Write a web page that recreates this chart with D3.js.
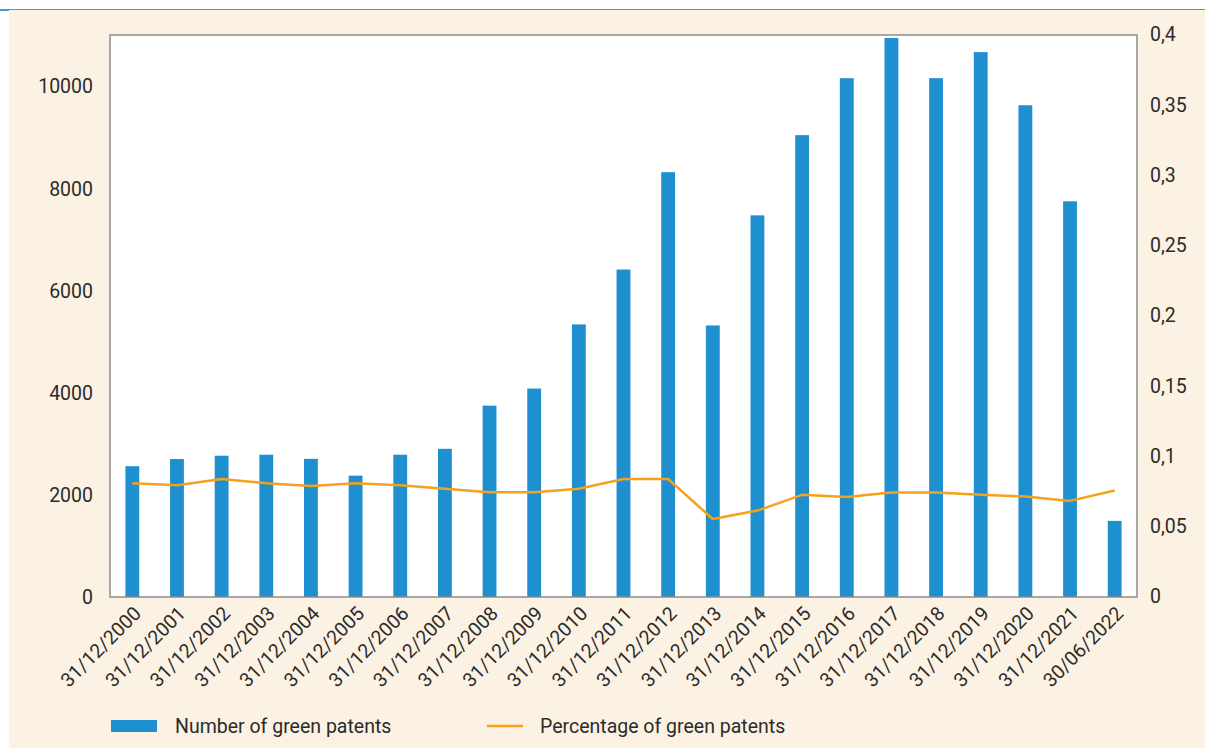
<!DOCTYPE html>
<html>
<head>
<meta charset="utf-8">
<script src="https://cdn.jsdelivr.net/npm/d3@7"></script>
<style>
  body { margin: 0; background: #fff; }
  svg text { font-family: Roboto, "Liberation Sans", sans-serif; fill: #2b2b2b; }
</style>
</head>
<body>
<div id="chart"></div>
<script>
const width = 1205;
const height = 748;

// data
const dates = ["31/12/2000", "31/12/2001", "31/12/2002", "31/12/2003", "31/12/2004",
               "31/12/2005", "31/12/2006", "31/12/2007", "31/12/2008", "31/12/2009",
               "31/12/2010", "31/12/2011", "31/12/2012", "31/12/2013", "31/12/2014",
               "31/12/2015", "31/12/2016", "31/12/2017", "31/12/2018", "31/12/2019",
               "31/12/2020", "31/12/2021", "30/06/2022"];
const patents = [2560, 2700, 2765, 2785, 2705, 2375, 2785, 2900, 3745, 4080,
                 5335, 6410, 8315, 5315, 7470, 9040, 10155, 10940, 10155, 10665,
                 9625, 7745, 1490];
const share = [0.081, 0.0795, 0.084, 0.081, 0.079, 0.081, 0.0795, 0.077, 0.0745, 0.0745,
               0.077, 0.084, 0.084, 0.0555, 0.0615, 0.0727, 0.0711, 0.0744, 0.0744, 0.0727,
               0.0715, 0.0684, 0.0758];
const leftTicks = [0, 2000, 4000, 6000, 8000, 10000];
const rightTicks = [0, 0.05, 0.1, 0.15, 0.2, 0.25, 0.3, 0.35, 0.4];

const fontSize = 19.5;
const margin = {top: 35, right: 68, bottom: 151, left: 110};
const innerWidth = width - margin.left - margin.right;
const innerHeight = height - margin.top - margin.bottom;

const svg = d3.select("#chart").append("svg")
    .attr("width", width)
    .attr("height", height);

// page frame
svg.append("rect")
    .attr("x", 9).attr("y", 10)
    .attr("width", width - 9).attr("height", height - 10)
    .attr("fill", "#fcf2e3");
svg.append("line")
    .attr("x1", 9).attr("x2", width).attr("y1", 9.5).attr("y2", 9.5)
    .attr("stroke", "#3c9fd0").attr("stroke-width", 1);
svg.append("rect")
    .attr("x", 0).attr("y", 9).attr("width", 9).attr("height", 2)
    .attr("fill", "#3c9fd0");

const g = svg.append("g")
    .attr("transform", `translate(${margin.left},${margin.top})`);

g.append("rect")
    .attr("width", innerWidth).attr("height", innerHeight)
    .attr("fill", "white");

const x = d3.scaleBand()
    .domain(dates)
    .range([0, innerWidth])
    .paddingInner(0.69)
    .paddingOuter(0.345);

const y = d3.scaleLinear().domain([0, 11000]).range([innerHeight, 0]);
const y2 = d3.scaleLinear().domain([0, 0.4]).range([innerHeight, 0]);

g.selectAll(".bar")
    .data(patents)
    .join("rect")
    .attr("class", "bar")
    .attr("x", (d, i) => x(dates[i]))
    .attr("y", d => y(d))
    .attr("width", x.bandwidth())
    .attr("height", d => innerHeight - y(d))
    .attr("fill", "#1e90d0");

const line = d3.line()
    .x((d, i) => x(dates[i]) + x.bandwidth() / 2)
    .y(d => y2(d));

g.append("path")
    .datum(share)
    .attr("d", line)
    .attr("fill", "none")
    .attr("stroke", "#f5a11c")
    .attr("stroke-width", 2.5)
    .attr("stroke-linejoin", "round");

// plot border
g.append("rect")
    .attr("width", innerWidth).attr("height", innerHeight)
    .attr("fill", "none")
    .attr("stroke", "#8c8c8c")
    .attr("stroke-width", 1.5);

// left axis
const yAxis = g.append("g")
    .call(d3.axisLeft(y).tickValues(leftTicks).tickSize(0).tickPadding(17).tickFormat(d3.format("d")));
yAxis.select(".domain").remove();
yAxis.selectAll("text").attr("font-size", fontSize).attr("dy", "0.35em");

// right axis
const fmtComma = d => String(d).replace(".", ",");
const y2Axis = g.append("g")
    .attr("transform", `translate(${innerWidth},0)`)
    .call(d3.axisRight(y2).tickValues(rightTicks).tickSize(0).tickPadding(13).tickFormat(fmtComma));
y2Axis.select(".domain").remove();
y2Axis.selectAll("text").attr("font-size", fontSize).attr("dy", "0.3em");

// bottom axis
const xAxis = g.append("g")
    .attr("transform", `translate(0,${innerHeight})`)
    .call(d3.axisBottom(x).tickSize(0).tickPadding(0));
xAxis.select(".domain").remove();
xAxis.selectAll("text")
    .attr("font-size", fontSize)
    .attr("text-anchor", "end")
    .attr("dy", "0.35em")
    .attr("transform", "translate(5,13) rotate(-45)");

// legend
const legend = svg.append("g").attr("transform", "translate(0,726)");
legend.append("rect")
    .attr("x", 111).attr("y", -6).attr("width", 46).attr("height", 12)
    .attr("fill", "#1e90d0");
legend.append("text")
    .attr("x", 175).attr("y", 0).attr("dy", "0.35em")
    .attr("font-size", fontSize)
    .text("Number of green patents");
legend.append("line")
    .attr("x1", 487).attr("x2", 523).attr("y1", 0).attr("y2", 0)
    .attr("stroke", "#f5a11c").attr("stroke-width", 2.5);
legend.append("text")
    .attr("x", 540).attr("y", 0).attr("dy", "0.35em")
    .attr("font-size", fontSize)
    .text("Percentage of green patents");
</script>
</body>
</html>
